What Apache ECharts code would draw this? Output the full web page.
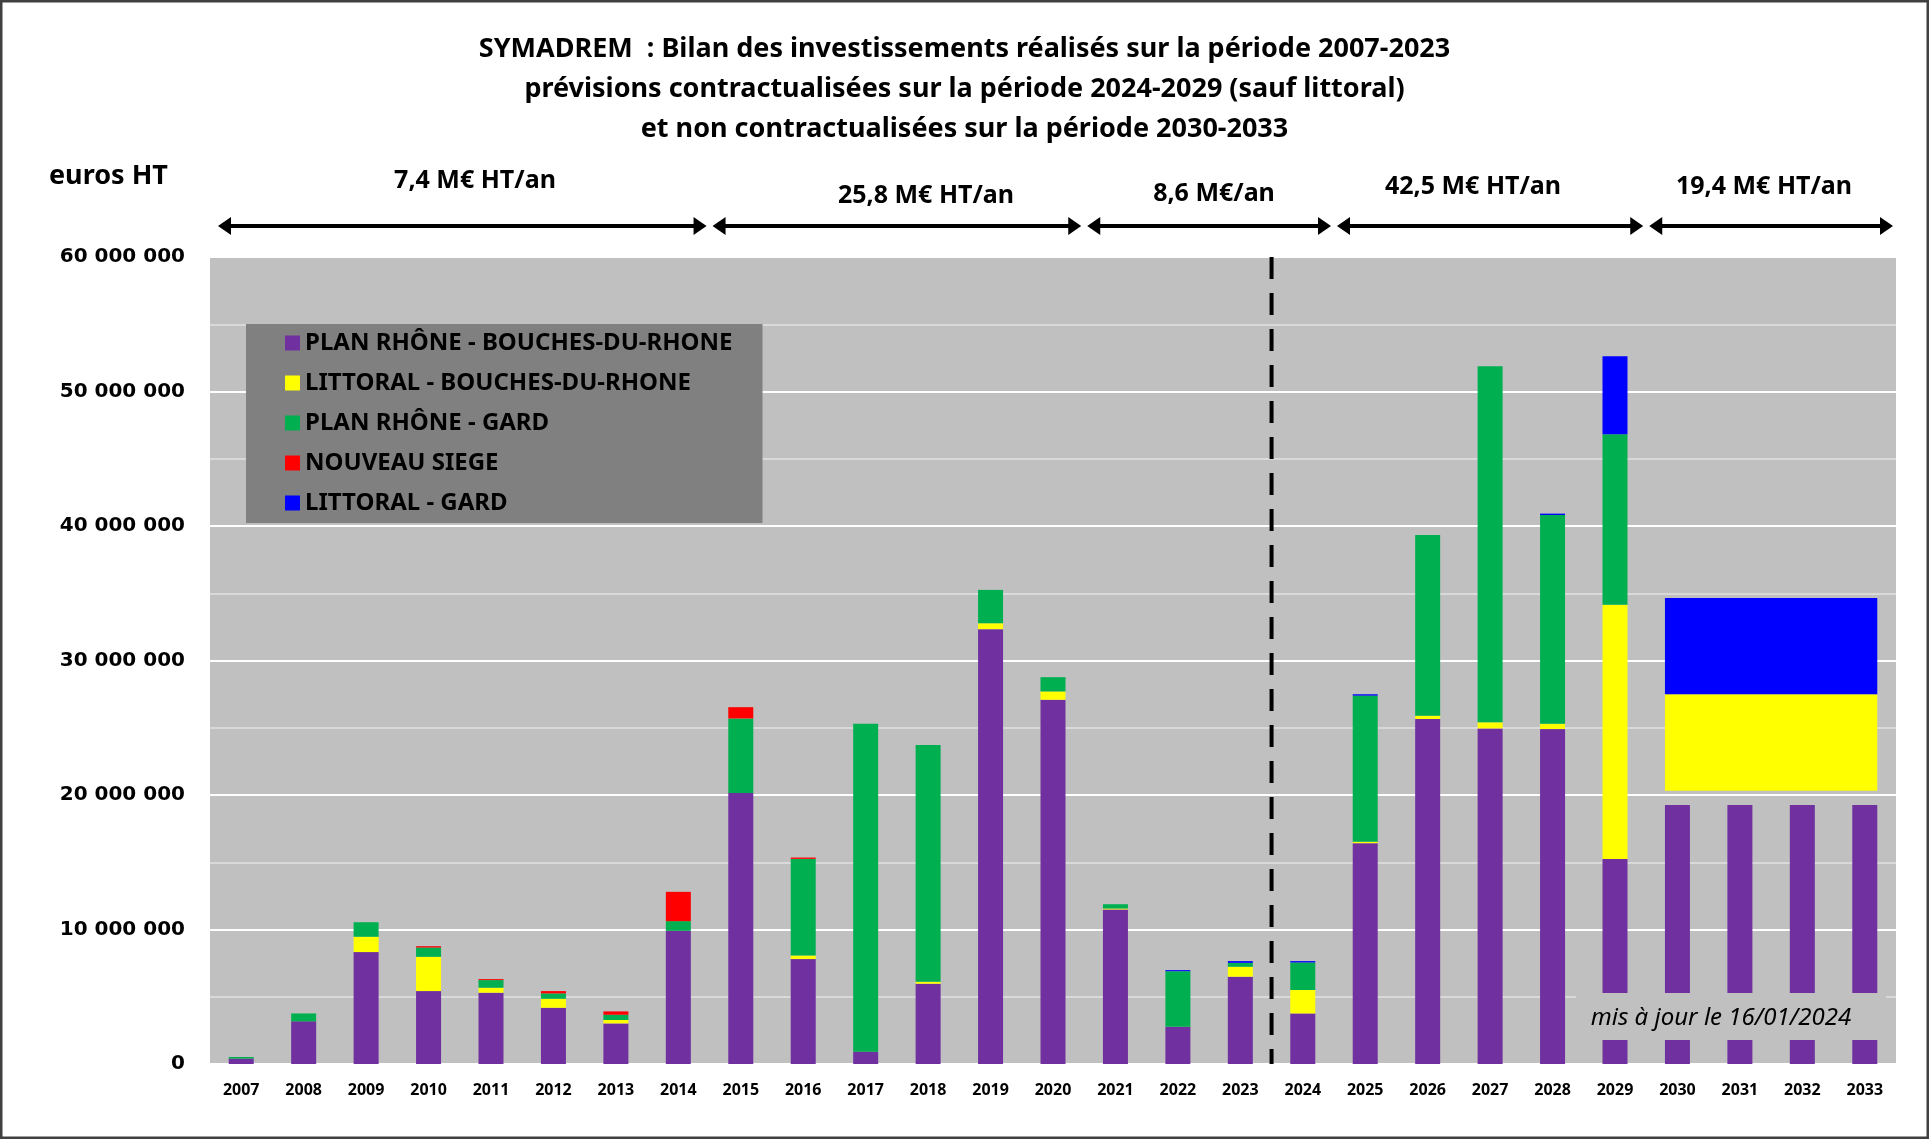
<!DOCTYPE html>
<html>
<head>
    <meta charset="utf-8">
    <title>SYMADREM - investissements</title>
    <script src="https://cdn.jsdelivr.net/npm/echarts@6/dist/echarts.min.js"></script>
    <style>
        html, body { margin: 0; padding: 0; background: #ffffff; }
        #main { width: 1929px; height: 1139px; }
    </style>
</head>
<body>
<div id="main"></div>
<script>
    // données en millions d'euros HT
    var years = ['2007', '2008', '2009', '2010', '2011', '2012', '2013', '2014', '2015', '2016',
        '2017', '2018', '2019', '2020', '2021', '2022', '2023', '2024', '2025', '2026',
        '2027', '2028', '2029', '2030', '2031', '2032', '2033'];

    var planRhoneBdr = [0.40, 3.17, 8.32, 5.42, 5.30, 4.18, 3.02, 9.90, 20.15, 7.80,
        0.92, 5.97, 32.33, 27.08, 11.49, 2.77, 6.49, 3.76, 16.42, 25.65,
        24.95, 24.90, 15.25, 19.25, 19.25, 19.25, 19.25];
    var littoralBdr = [0, 0, 1.14, 2.55, 0.37, 0.67, 0.25, 0, 0, 0.27,
        0, 0.14, 0.44, 0.62, 0.07, 0, 0.74, 1.74, 0.10, 0.25,
        0.45, 0.40, 18.90, 0, 0, 0, 0];
    var planRhoneGard = [0.12, 0.59, 1.08, 0.69, 0.57, 0.40, 0.39, 0.72, 5.54, 7.18,
        24.38, 17.60, 2.48, 1.06, 0.32, 4.13, 0.29, 2.05, 10.87, 13.43,
        26.47, 15.52, 12.67, 0, 0, 0, 0];
    var nouveauSiege = [0, 0, 0, 0.10, 0.07, 0.17, 0.25, 2.18, 0.84, 0.10,
        0, 0, 0, 0, 0, 0, 0, 0, 0, 0,
        0, 0, 0, 0, 0, 0, 0];
    var littoralGard = [0, 0, 0, 0, 0, 0, 0, 0, 0, 0,
        0, 0, 0, 0, 0, 0.08, 0.13, 0.10, 0.10, 0,
        0, 0.10, 5.80, 0, 0, 0, 0];

    // bloc littoral non contractualisé 2030-2033 (de, à)
    var blocYears = ['2030', '2033'];
    var blocLittoralBdr = [20.32, 27.49];
    var blocLittoralGard = [27.49, 34.65];

    var yTicks = [0, 10, 20, 30, 40, 50, 60];

    // moyennes par période : [catégorie début, catégorie fin]
    var periodLabels = ['7,4 M€ HT/an', '25,8 M€ HT/an', '8,6 M€/an', '42,5 M€ HT/an', '19,4 M€ HT/an'];
    var periodBounds = [[0, 8], [8, 14], [14, 18], [18, 23], [23, 27]];

    var titleFont = 'Noto Sans';

    var chart = echarts.init(document.getElementById('main'));

    function fmt(v) {
        return String(Math.round(v * 1000000)).replace(/\B(?=(\d{3})+(?!\d))/g, ' ');
    }

    function barSeries(name, data, color) {
        return {
            name: name,
            type: 'bar',
            stack: 'total',
            barWidth: 25,
            data: data,
            itemStyle: {color: color},
            emphasis: {disabled: true}
        };
    }

    function blocSeries(name, range, color) {
        return {
            name: name + ' ',
            type: 'custom',
            data: [[blocYears[0], blocYears[1], range[0], range[1]]],
            encode: {x: [0, 1], y: [2, 3]},
            renderItem: function (params, api) {
                var p0 = api.coord([api.value(0), api.value(2)]);
                var p1 = api.coord([api.value(1), api.value(3)]);
                var half = 12.5;
                return {
                    type: 'rect',
                    shape: {x: p0[0] - half, y: p1[1], width: p1[0] - p0[0] + 2 * half, height: p0[1] - p1[1]},
                    style: {fill: color}
                };
            },
            z: 3
        };
    }

    var option = {
        backgroundColor: '#ffffff',
        animation: false,
        title: {
            text: 'SYMADREM  : Bilan des investissements réalisés sur la période 2007-2023\n' +
                'prévisions contractualisées sur la période 2024-2029 (sauf littoral)\n' +
                'et non contractualisées sur la période 2030-2033',
            left: 'center',
            top: 24,
            textStyle: {
                fontFamily: titleFont,
                fontWeight: 'bold',
                fontSize: 27,
                lineHeight: 40,
                color: '#000000'
            }
        },
        legend: {
            orient: 'vertical',
            left: 246,
            top: 324,
            backgroundColor: '#808080',
            padding: [7, 30, 8, 39],
            itemWidth: 15,
            itemHeight: 15,
            itemGap: 16,
            icon: 'rect',
            selectedMode: false,
            data: ['PLAN RHÔNE - BOUCHES-DU-RHONE', 'LITTORAL - BOUCHES-DU-RHONE', 'PLAN RHÔNE - GARD',
                'NOUVEAU SIEGE', 'LITTORAL - GARD'],
            textStyle: {
                fontFamily: titleFont,
                fontWeight: 'bold',
                fontSize: 24,
                lineHeight: 24,
                color: '#000000'
            }
        },
        grid: {
            left: 210,
            right: 33,
            top: 257,
            bottom: 75,
            show: true,
            backgroundColor: '#c0c0c0',
            borderWidth: 0
        },
        xAxis: {
            type: 'category',
            data: years,
            axisLine: {show: false},
            axisTick: {show: false},
            axisLabel: {
                margin: 18,
                fontFamily: titleFont,
                fontWeight: 'bold',
                fontSize: 16,
                color: '#000000'
            }
        },
        yAxis: {
            type: 'value',
            min: yTicks[0],
            max: yTicks[yTicks.length - 1],
            interval: 10,
            axisLine: {show: false},
            axisTick: {show: false},
            minorTick: {show: false, splitNumber: 2},
            splitLine: {lineStyle: {color: '#ffffff', width: 2}},
            minorSplitLine: {show: true, lineStyle: {color: '#d9d9d9', width: 2}},
            axisLabel: {
                margin: 25,
                fontFamily: 'DejaVu Sans',
                fontWeight: 'bold',
                fontSize: 20,
                color: '#000000',
                formatter: fmt
            }
        },
        series: [
            barSeries('PLAN RHÔNE - BOUCHES-DU-RHONE', planRhoneBdr, '#7030a0'),
            barSeries('LITTORAL - BOUCHES-DU-RHONE', littoralBdr, '#ffff00'),
            barSeries('PLAN RHÔNE - GARD', planRhoneGard, '#00b050'),
            barSeries('NOUVEAU SIEGE', nouveauSiege, '#ff0000'),
            barSeries('LITTORAL - GARD', littoralGard, '#0000ff'),
            blocSeries('LITTORAL - BOUCHES-DU-RHONE', blocLittoralBdr, '#ffff00'),
            blocSeries('LITTORAL - GARD', blocLittoralGard, '#0000ff')
        ]
    };
    chart.setOption(option);

    // annotations : flèches, séparation 2023/2024, cartouche de mise à jour
    var c0 = chart.convertToPixel({xAxisIndex: 0}, 0);
    var c1 = chart.convertToPixel({xAxisIndex: 0}, 1);
    var catW = c1 - c0;
    function bound(k) { return c0 + (k - 0.5) * catW; }
    var yTop = chart.convertToPixel({yAxisIndex: 0}, 60);
    var yBot = chart.convertToPixel({yAxisIndex: 0}, 0);

    var labelPos = [[475, 181], [926, 196], [1214, 194], [1473, 187], [1764, 187]];
    var arrowY = 226;
    var graphics = [];
    periodBounds.forEach(function (b, i) {
        var xa = bound(b[0]) + (i === 0 ? 8 : 3);
        var xb = bound(b[1]) - 3;
        graphics.push({
            type: 'line', z: 50,
            shape: {x1: xa + 8, y1: arrowY, x2: xb - 8, y2: arrowY},
            style: {stroke: '#000000', lineWidth: 4}
        });
        graphics.push({
            type: 'polygon', z: 50,
            shape: {points: [[xa, arrowY], [xa + 13, arrowY - 9], [xa + 13, arrowY + 9]]},
            style: {fill: '#000000'}
        });
        graphics.push({
            type: 'polygon', z: 50,
            shape: {points: [[xb, arrowY], [xb - 13, arrowY - 9], [xb - 13, arrowY + 9]]},
            style: {fill: '#000000'}
        });
        graphics.push({
            type: 'text', z: 50,
            x: labelPos[i][0], y: labelPos[i][1],
            style: {
                text: periodLabels[i],
                fill: '#000000',
                font: 'bold 25px "Noto Sans"',
                textAlign: 'center',
                textVerticalAlign: 'middle'
            }
        });
    });

    // ligne pointillée entre 2023 et 2024
    var xDash = bound(17);
    graphics.push({
        type: 'line', z: 50,
        shape: {x1: xDash, y1: yTop, x2: xDash, y2: yBot},
        style: {stroke: '#000000', lineWidth: 4, lineDash: [22, 14]}
    });

    // cartouche "mis à jour"
    graphics.push({
        type: 'rect', z: 60,
        shape: {x: 1576, y: 993, width: 310, height: 47},
        style: {fill: '#c0c0c0'}
    });
    graphics.push({
        type: 'text', z: 61,
        x: 1721, y: 1018,
        style: {
            text: 'mis à jour le 16/01/2024',
            fill: '#000000',
            font: 'italic 24px "Noto Sans"',
            textAlign: 'center',
            textVerticalAlign: 'middle'
        }
    });

    // unité
    graphics.push({
        type: 'text', z: 50,
        x: 49, y: 176,
        style: {
            text: 'euros HT',
            fill: '#000000',
            font: 'bold 27px "Noto Sans"',
            textAlign: 'left',
            textVerticalAlign: 'middle'
        }
    });

    // cadre
    graphics.push({
        type: 'rect', z: 70,
        shape: {x: 1, y: 1, width: 1927, height: 1137},
        style: {fill: 'none', stroke: '#404040', lineWidth: 3}
    });

    chart.setOption({graphic: graphics});

    window.onresize = function () {
        chart.resize();
    };
</script>
</body>
</html>
